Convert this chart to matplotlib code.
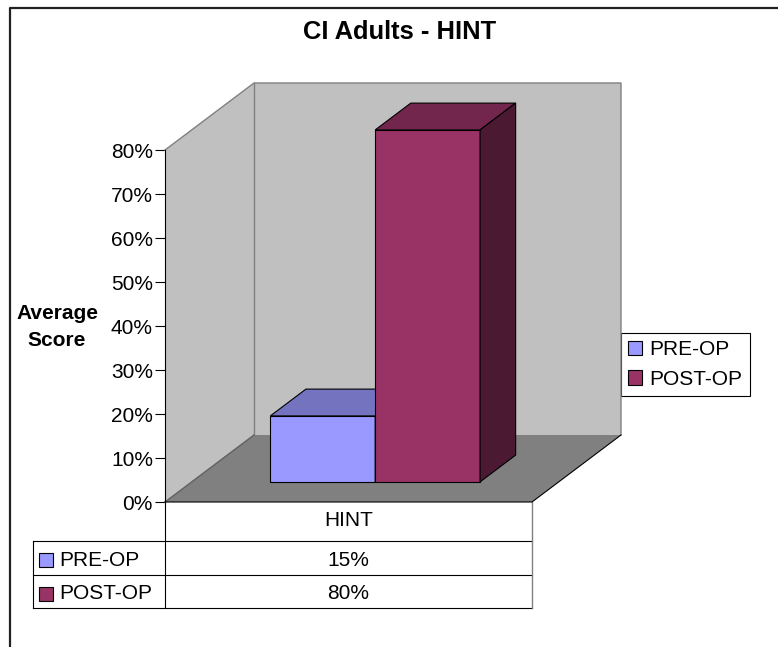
import matplotlib.pyplot as plt
from matplotlib.patches import Polygon, Rectangle, Patch
from matplotlib.ticker import PercentFormatter

plt.rcParams['font.family'] = ['Liberation Sans', 'DejaVu Sans']

# data
categories = ["HINT"]
series = ["PRE-OP", "POST-OP"]
values = [0.15, 0.80]
value_labels = ["15%", "80%"]
title = "CI Adults - HINT"
ylabel = "Average\nScore"

# face colours (front, top, side)
front_cols = ["#9999FF", "#993366"]
top_cols = ["#7373BF", "#73264D"]
side_cols = ["#4D4D80", "#4C1933"]

W, H = 778, 647
fig = plt.figure(figsize=(W / 100, H / 100), dpi=100)

# page axes in pixel units for border, title, table
page = fig.add_axes([0, 0, 1, 1])
page.set_xlim(0, W)
page.set_ylim(H, 0)
page.axis('off')

# outer chart border (left and top only visible)
page.plot([10, 10, W + 5], [H + 5, 8, 8], color="#222222", lw=1.6, solid_capstyle='butt')

page.text(400, 32, title, ha='center', va='center', fontsize=18.4, fontweight='bold')
page.text(57, 327, ylabel, ha='center', va='center', fontsize=15, fontweight='bold',
          linespacing=1.5)

# plot area: front plane of the 3d box
x0p, x1p, y0p, y1p = 165, 532, 502, 150
ax = fig.add_axes([x0p / W, 1 - y0p / H, (x1p - x0p) / W, (y0p - y1p) / H])
ax.set_xlim(0, 1)
ax.set_ylim(0, 0.8)
ax.patch.set_visible(False)
for s in ['top', 'right', 'bottom']:
    ax.spines[s].set_visible(False)
ax.spines['left'].set_color('black')
ax.spines['left'].set_linewidth(0.8)
ax.spines['left'].set_zorder(5)
ax.set_xticks([])
ax.set_yticks([i / 10 for i in range(9)])
ax.yaxis.set_major_formatter(PercentFormatter(1.0, decimals=0))
ax.tick_params(axis='y', direction='out', length=7.2, width=0.8, labelsize=15, pad=1.5)

DX = 89 / (x1p - x0p)
DY = 67 / (y0p - y1p) * 0.8
top = 0.8

wall = "#C0C0C0"
floor = "#808080"
edge = "#808080"

ax.add_patch(Polygon([(0, 0), (DX, DY), (DX, top + DY), (0, top)], closed=True,
                     facecolor=wall, edgecolor='none', clip_on=False, zorder=1))
ax.add_patch(Polygon([(DX, DY), (1 + DX, DY), (1 + DX, top + DY), (DX, top + DY)], closed=True,
                     facecolor=wall, edgecolor='none', clip_on=False, zorder=1))
ax.add_patch(Polygon([(0, 0), (1, 0), (1 + DX, DY), (DX, DY)], closed=True,
                     facecolor=floor, edgecolor='none', clip_on=False, zorder=1))
kw = dict(color=edge, lw=1.0, clip_on=False, zorder=2)
ax.plot([0, DX, 1 + DX, 1 + DX], [top, top + DY, top + DY, DY], **kw)
ax.plot([DX, DX], [DY, top + DY], **kw)
ax.plot([0, DX], [0, DY], color="#606060", lw=1.0, clip_on=False, zorder=2)
ax.plot([0, 1, 1 + DX], [0, 0, DY], color='black', lw=0.8, clip_on=False, zorder=2)

# bars
gap = 1.5
w = 1 / (len(series) + gap)
d0, d1 = 0.3, 0.7
ox0, oy0 = d0 * DX, d0 * DY
ox1, oy1 = d1 * DX, d1 * DY
for i, v in enumerate(values):
    a = gap / 2 * w + i * w
    b = a + w
    pk = dict(closed=True, edgecolor='black', lw=0.8, clip_on=False, zorder=3 + i)
    ax.add_patch(Polygon([(a + ox0, oy0), (b + ox0, oy0), (b + ox0, v + oy0), (a + ox0, v + oy0)],
                         facecolor=front_cols[i], **pk))
    ax.add_patch(Polygon([(a + ox0, v + oy0), (b + ox0, v + oy0), (b + ox1, v + oy1), (a + ox1, v + oy1)],
                         facecolor=top_cols[i], **pk))
    ax.add_patch(Polygon([(b + ox0, oy0), (b + ox1, oy1), (b + ox1, v + oy1), (b + ox0, v + oy0)],
                         facecolor=side_cols[i], **pk))

# legend
handles = [Patch(facecolor=front_cols[i], edgecolor='black', lw=0.8) for i in range(len(series))]
leg = page.legend(handles, series, loc='upper left', bbox_to_anchor=(621, 333),
                  bbox_transform=page.transData, borderaxespad=0, fontsize=15,
                  handlelength=0.68, handleheight=0.68, handletextpad=0.35,
                  labelspacing=0.5, borderpad=0.35, fancybox=False, framealpha=1,
                  edgecolor='black')
leg.get_frame().set_linewidth(0.8)
leg.set_zorder(10)

# data table
rows = [503, 541, 575, 608]
lk = dict(color='black', lw=0.8)
page.plot([x0p, x1p], [rows[1], rows[1]], **lk)
page.plot([33, x1p], [rows[2], rows[2]], **lk)
page.plot([33, x1p], [rows[3], rows[3]], **lk)
page.plot([33, 33], [rows[1], rows[3]], **lk)
page.plot([x0p, x0p], [y0p, rows[3]], **lk)
page.plot([x1p, x1p], [y0p, rows[3]], color='#808080', lw=1.0)
page.plot([33, x0p], [rows[1], rows[1]], **lk)
cx = (x0p + x1p) / 2
page.text(cx, 521, categories[0], ha='center', va='center', fontsize=15)
for i, name in enumerate(series):
    yc = (rows[i + 1] + rows[i + 2]) / 2 + 2
    page.add_patch(Rectangle((39, yc - 7), 14, 14, facecolor=front_cols[i], edgecolor='black', lw=0.8))
    page.text(59, yc, name, ha='left', va='center', fontsize=15)
    page.text(cx, yc, value_labels[i], ha='center', va='center', fontsize=15)

fig.savefig("out.png", dpi=100)
